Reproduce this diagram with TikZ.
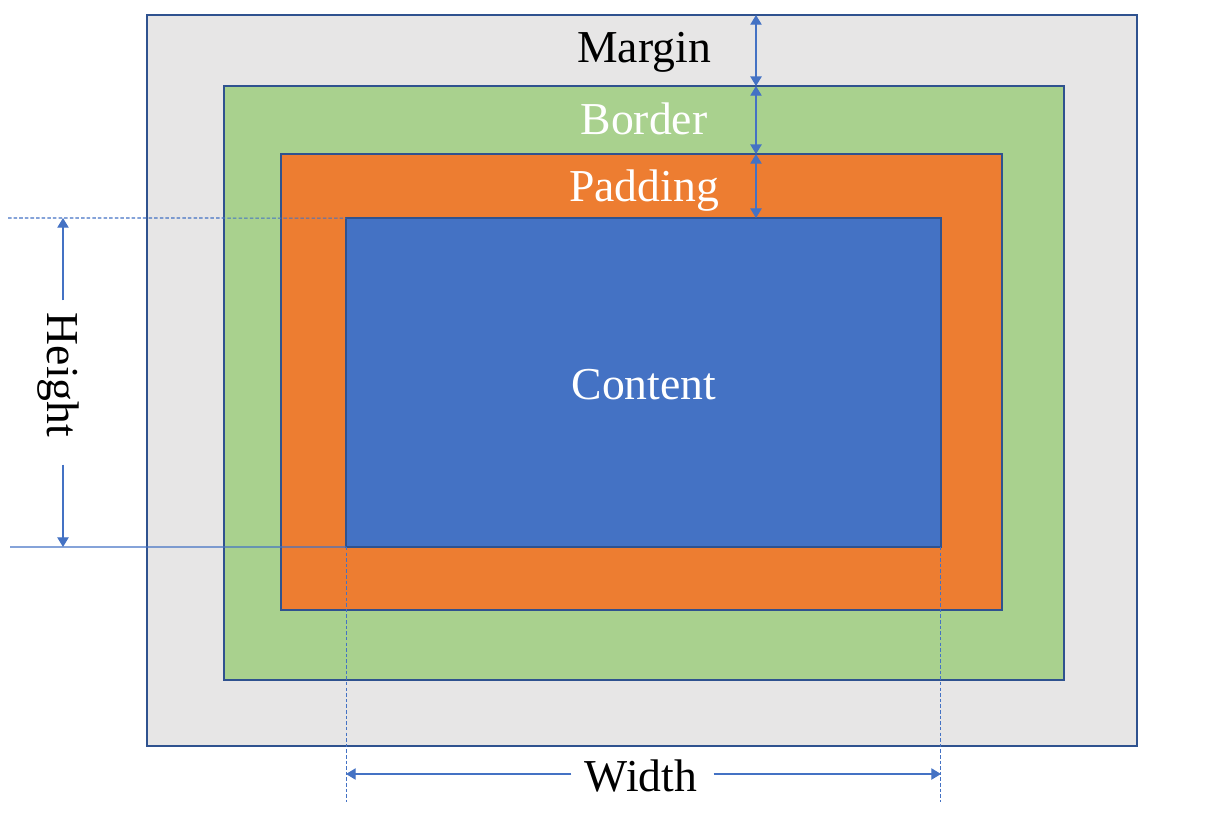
\documentclass[tikz,border=0pt]{standalone}
\usepackage{fontspec}
\setmainfont{Liberation Serif}
\usetikzlibrary{arrows.meta}
\definecolor{margingray}{HTML}{E7E6E6}
\definecolor{bordergreen}{HTML}{A9D18E}
\definecolor{paddingorange}{HTML}{ED7D31}
\definecolor{contentblue}{HTML}{4472C4}
\definecolor{edgeblue}{HTML}{2F528F}
\tikzset{
	box/.style={draw=edgeblue,line width=1.2pt,inner sep=0pt,outer sep=0pt},
	lbl/.style={font=\fontsize{26}{30}\selectfont,inner sep=0pt,anchor=base},
	tip/.tip={Triangle[width=6.5pt,length=5.5pt]},
	dim/.style={draw=contentblue,line width=0.7pt,tip-tip},
	dimend/.style={draw=contentblue,line width=0.7pt,-tip},
	guide/.style={draw=contentblue,line width=0.6pt},
	guidedash/.style={guide,dash pattern=on 2pt off 1.2pt}
}
\begin{document}
\begin{tikzpicture}[x=0.02cm,y=-0.02cm]
			\useasboundingbox (0,0) rectangle (1207,812);
			\node[box,fill=margingray,minimum width=19.8cm,minimum height=14.62cm] (margin) at (642,380.5) {};
			\node[box,fill=bordergreen,minimum width=16.8cm,minimum height=11.88cm] (border) at (644,383) {};
			\node[box,fill=paddingorange,minimum width=14.42cm,minimum height=9.12cm] (padding) at (641.5,382) {};
			\node[box,fill=contentblue,minimum width=11.9cm,minimum height=6.58cm] (content) at (643.5,382.5) {};
			\node[lbl] (marginlbl) at (644,62) {Margin};
			\node[lbl,white] (borderlbl) at (644,134) {Border};
			\node[lbl,white] (paddinglbl) at (644,201) {Padding};
			\node[lbl,white] (contentlbl) at (644,399) {Content};
			% layer arrows
			\coordinate (mx) at (756,0);
			\draw[dim] (mx |- margin.north) -- (mx |- border.north);
			\draw[dim] (mx |- border.north) -- (mx |- padding.north);
			\draw[dim] (mx |- padding.north) -- (mx |- content.north);
			% height
			\coordinate (htop) at (8,218);
			\coordinate (hbot) at (10,547);
			\coordinate (hx) at (63,0);
			\draw[guidedash] (htop) -- (content.north west);
			\draw[guide] (hbot) -- (content.south west);
			\node[lbl,rotate=-90] (height) at (48,375) {Height};
			\draw[dimend] (hx |- height.west) ++(0,-12) -- (hx |- content.north west);
			\draw[dimend] (hx |- height.east) ++(0,27) -- (hx |- content.south west);
			% width
			\coordinate (wfoot) at (0,802);
			\coordinate (wy) at (0,774);
			\draw[guidedash] (content.south west) -- (content.south west |- wfoot);
			\draw[guidedash] (content.south east) -- (content.south east |- wfoot);
			\node[lbl] (width) at (641,791) {Width};
			\draw[dimend] (width.west |- wy) ++(-13,0) -- (content.south west |- wy);
			\draw[dimend] (width.east |- wy) ++(16,0) -- (content.south east |- wy);
		\end{tikzpicture}
\end{document}
